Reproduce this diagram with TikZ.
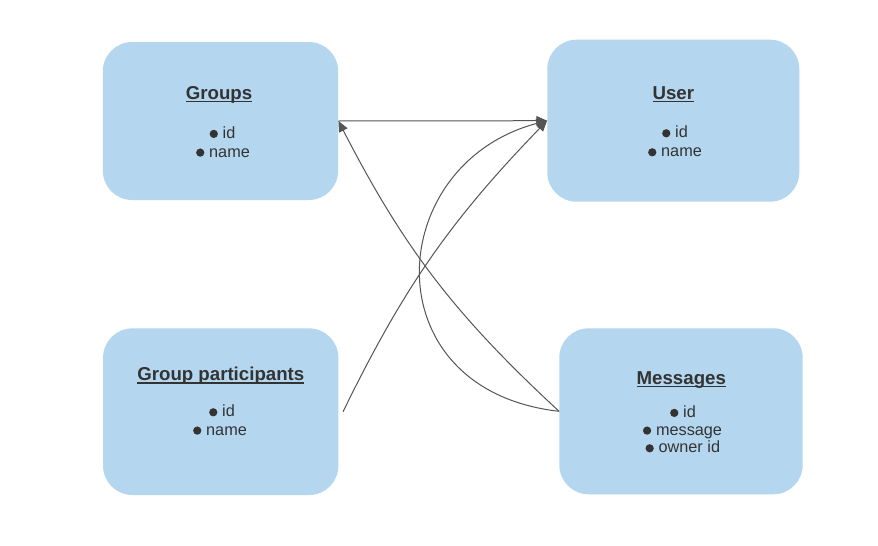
\documentclass[tikz,border=0pt]{standalone}
\usepackage{fontspec}
\setmainfont{Liberation Sans}
\usetikzlibrary{arrows.meta}
\definecolor{boxfill}{HTML}{B4D7EF}
\definecolor{txt}{HTML}{333333}
\definecolor{edge}{HTML}{555555}
\newcommand\ulbold[1]{\setbox0\hbox{\bfseries #1}\rlap{\rule[-2.3pt]{\wd0}{1.1pt}}\box0}
\newcommand\blt{\tikz[baseline=0pt]\fill[txt] (0pt,3.3pt) circle (3.1pt);\hspace{3.6pt}}
\begin{document}
\begin{tikzpicture}[x=0.75pt,y=-0.75pt,
  box/.style={draw=none,fill=boxfill,rounded corners=22pt,inner sep=0pt},
  ttl/.style={anchor=base,text=txt,font=\fontsize{14}{16}\selectfont,inner sep=0pt},
  itm/.style={anchor=base,text=txt,font=\fontsize{12.2}{14}\selectfont,inner sep=0pt},
  conn/.style={draw=edge,line width=0.75pt},
  arr/.style={conn,-{Triangle[length=8pt,width=7pt]}}]
\useasboundingbox (0,0) rectangle (878,546);
\fill[white] (0,0) rectangle (878,546);
% boxes
\node[box,minimum width=176.5pt,minimum height=118.5pt] (g) at (220.5,121) {};
\node[box,minimum width=189pt,minimum height=121.5pt] (u) at (673.3,120.7) {};
\node[box,minimum width=176.5pt,minimum height=125pt] (gp) at (220.7,411.7) {};
\node[box,minimum width=182.5pt,minimum height=124.5pt] (m) at (681,411.3) {};
% Groups
\node[ttl] (gt) at (219,99.3) {\ulbold{Groups}};
\node[itm] (gi1) at (222.5,138.3) {\blt id};
\node[itm] (gi2) at (223,157) {\blt name};
% User
\node[ttl] (ut) at (673.3,99) {\ulbold{User}};
\node[itm] (ui1) at (675,137.7) {\blt id};
\node[itm] (ui2) at (675,156.7) {\blt name};
% Group participants
\node[ttl] (gpt) at (220.8,380.7) {\ulbold{Group participants}};
\node[itm] (gpi1) at (222,416.7) {\blt id};
\node[itm] (gpi2) at (220,435) {\blt name};
% Messages
\node[ttl] (mt) at (681.3,384) {\ulbold{Messages}};
\node[itm] (mi1) at (683,417.3) {\blt id};
\node[itm] (mi2) at (682.5,435) {\blt message};
\node[itm] (mi3) at (682.8,452.7) {\blt owner id};
% connectors
\draw[arr] (g.east) -- (u.west);
\draw[arr] (m.west) to[bend left=10] (g.east);
\draw[arr] (m.west) .. controls (370,390) and (383,164) .. (u.west);
\draw[arr] ([xshift=3.3pt]gp.east) to[bend left=9] (u.west);
\end{tikzpicture}
\end{document}
